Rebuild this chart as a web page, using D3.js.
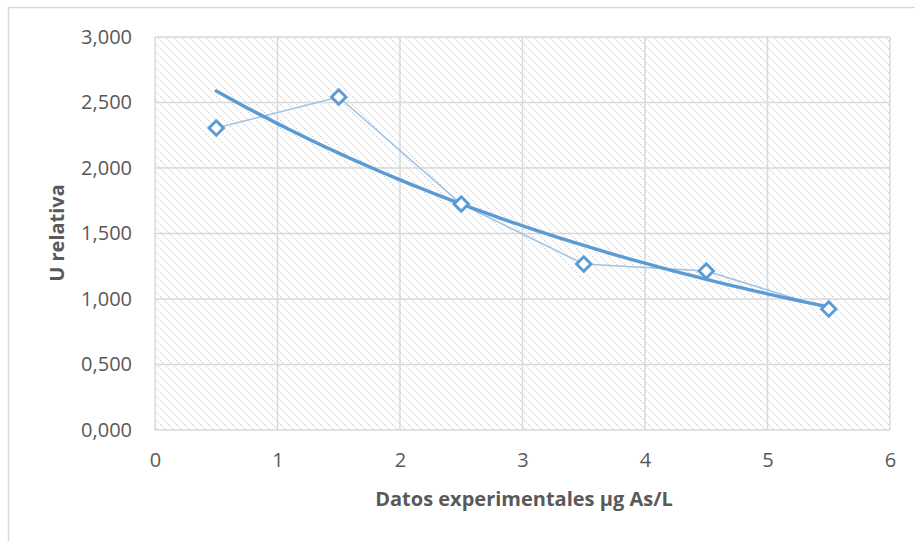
<!DOCTYPE html>
<html>
<head>
<meta charset="utf-8">
<script src="https://cdn.jsdelivr.net/npm/d3@7"></script>
<style>
  body { margin: 0; background: #fff; }
  text { font-family: "Open Sans", sans-serif; }
</style>
</head>
<body>
<svg id="js-svg" width="915" height="541"></svg>
<script>
// data
const xValues = [0.5, 1.5, 2.5, 3.5, 4.5, 5.5];
const uValues = [2.305, 2.542, 1.725, 1.267, 1.214, 0.924];
const xTicks = [0, 1, 2, 3, 4, 5, 6];
const yTicks = [0, 0.5, 1, 1.5, 2, 2.5, 3];

const svg = d3.select("#js-svg");
const margin = { left: 155, top: 37, right: 25, bottom: 111 };
const width = 915 - margin.left - margin.right;
const height = 541 - margin.top - margin.bottom;

const xscale = d3.scaleLinear().domain([0, 6]).range([margin.left, margin.left + width]);
const yscale = d3.scaleLinear().domain([0, 3]).range([margin.top + height, margin.top]);

// outer chart border (only top and left visible)
svg.append("path")
  .attr("d", "M8.5,541 L8.5,7.5 L915,7.5")
  .attr("fill", "none")
  .attr("stroke", "#d9d9d9")
  .attr("stroke-width", 1.5);

// hatch pattern of the plot area
const pat = svg.append("defs").append("pattern")
  .attr("id", "hatch")
  .attr("patternUnits", "userSpaceOnUse")
  .attr("width", 8).attr("height", 8);
[0, 2, 4, 6].forEach((d) => {
  pat.append("rect")
    .attr("x", d).attr("y", d)
    .attr("width", 1.3).attr("height", 1.3)
    .attr("fill", "#d2d2d2");
});

svg.append("rect")
  .attr("x", margin.left).attr("y", margin.top)
  .attr("width", width).attr("height", height)
  .attr("fill", "url(#hatch)");

// gridlines
const grid = svg.append("g").attr("stroke", "#d9d9d9").attr("stroke-width", 1.5);
grid.selectAll(".gy").data(yTicks).join("line")
  .attr("x1", margin.left).attr("x2", margin.left + width)
  .attr("y1", (d) => yscale(d)).attr("y2", (d) => yscale(d));
grid.selectAll(".gx").data(xTicks).join("line")
  .attr("y1", margin.top).attr("y2", margin.top + height)
  .attr("x1", (d) => xscale(d)).attr("x2", (d) => xscale(d));

// axes (labels only)
const fmt = (d) => d3.format(",.3f")(d).replace(".", ",");
const yAxis = svg.append("g")
  .attr("transform", `translate(${margin.left},0)`)
  .call(d3.axisLeft(yscale).tickValues(yTicks).tickFormat(fmt).tickSize(0).tickPadding(23));
const xAxis = svg.append("g")
  .attr("transform", `translate(0,${margin.top + height})`)
  .call(d3.axisBottom(xscale).tickValues(xTicks).tickFormat(d3.format("d")).tickSize(0).tickPadding(23));
[xAxis, yAxis].forEach((a) => {
  a.select(".domain").remove();
  a.selectAll("text")
    .attr("fill", "#595959")
    .style("font-size", "20px")
    .style("font-family", "'Open Sans', sans-serif");
});

// exponential trendline fitted to the data (least squares on ln y, as in the spreadsheet)
const lnY = uValues.map(Math.log);
const mx = d3.mean(xValues);
const my = d3.mean(lnY);
const b = d3.sum(xValues, (x, i) => (x - mx) * (lnY[i] - my)) / d3.sum(xValues, (x) => (x - mx) ** 2);
const a = Math.exp(my - b * mx);
const trendX = d3.range(0, 51).map((i) => 0.5 + i * 0.1);

// connecting line
const line = d3.line().x((d) => xscale(d[0])).y((d) => yscale(d[1]));
svg.append("path")
  .datum(xValues.map((x, i) => [x, uValues[i]]))
  .attr("d", line)
  .attr("fill", "none")
  .attr("stroke", "#9dc3e6")
  .attr("stroke-width", 1.5);

svg.append("path")
  .datum(trendX.map((x) => [x, a * Math.exp(b * x)]))
  .attr("d", line)
  .attr("fill", "none")
  .attr("stroke", "#5b9bd5")
  .attr("stroke-width", 3.4)
  .attr("stroke-linecap", "round");

// diamond markers
svg.selectAll(".marker")
  .data(xValues.map((x, i) => [x, uValues[i]]))
  .join("path")
  .attr("class", "marker")
  .attr("transform", (d) => `translate(${xscale(d[0])},${yscale(d[1])})`)
  .attr("d", "M0,-7.2 L7.2,0 L0,7.2 L-7.2,0 Z")
  .attr("fill", "#fff")
  .attr("stroke", "#5b9bd5")
  .attr("stroke-width", 2.9);

// axis titles
svg.append("text")
  .attr("x", 524).attr("y", 506)
  .attr("text-anchor", "middle")
  .attr("fill", "#595959")
  .style("font-size", "20px").style("font-weight", "bold")
  .text("Datos experimentales µg As/L");

svg.append("text")
  .attr("transform", `translate(64,233) rotate(-90)`)
  .attr("text-anchor", "middle")
  .attr("fill", "#595959")
  .style("font-size", "20px").style("font-weight", "bold")
  .text("U relativa");
</script>
</body>
</html>
